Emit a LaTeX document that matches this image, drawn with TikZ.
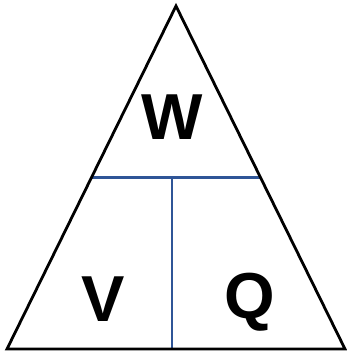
\documentclass[tikz,border=0pt]{standalone}
\usepackage{fontspec}
\setmainfont{Liberation Sans}
\usetikzlibrary{calc}
\definecolor{divblue}{RGB}{47,85,151}

\begin{document}
\begin{tikzpicture}[
        x=1pt, y=-1pt,
        side/.style={draw=black, line width=2.8pt, line join=miter},
        divider/.style={draw=divblue, line width=2.6pt},
        letter/.style={anchor=base, inner sep=0pt, font=\fontsize{65}{65}\selectfont\bfseries}
    ]
        \useasboundingbox (0,0) rectangle (347,351);
        % Corners of the triangle
        \coordinate (top) at (176,6);
        \coordinate (left) at (7,349);
        \coordinate (right) at (345,349);
        \coordinate (midL) at ($(left)!0.5!(top)$);
        \coordinate (midR) at ($(right)!0.5!(top)$);
        \coordinate (footV) at (172,349);
        \coordinate (headV) at (172,178);

        % Dividing lines
        \draw[divider] (midL) -- (midR);
        \draw[divider] (headV) -- (footV);

        % Outline
        \draw[side] (top) -- (left) -- (right) -- cycle;

        % Letters
        \node[letter] (W) at (172.5,139) {W};
        \node[letter] (V) at (103.5,321) {V};
        \node[letter] (Q) at (250,318) {Q};
\end{tikzpicture}
\end{document}
